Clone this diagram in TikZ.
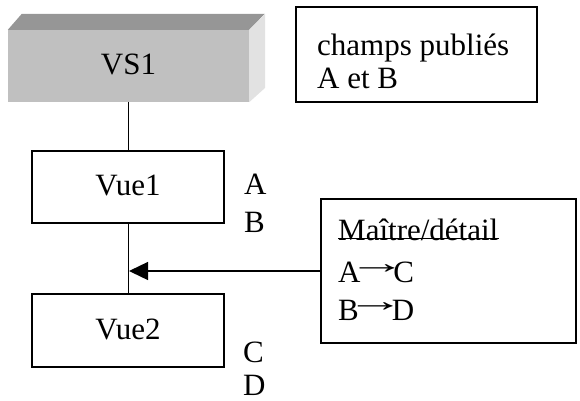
\documentclass[tikz,border=0pt]{standalone}
\usepackage{fontspec}
\setmainfont{Liberation Serif}
\usetikzlibrary{arrows.meta}
\definecolor{frontgray}{HTML}{C0C0C0}
\definecolor{topgray}{HTML}{969696}
\definecolor{sidegray}{HTML}{E2E2E2}
\newcommand{\raisedarrow}{\kern-13pt\raisebox{9pt}{\scalebox{1.9}[1]{→}}\kern-13pt}
\begin{document}
\begin{tikzpicture}[x=1pt,y=-1pt,
  every node/.style={font=\fontsize{31}{35}\selectfont},
  boxnode/.style={draw,line width=1.3pt,rectangle,inner sep=0pt,text height=17pt,text depth=0pt},
  txt/.style={inner sep=0pt,anchor=base west},
  conn/.style={line width=1pt}]
\useasboundingbox (0,0) rectangle (580,400);
% VS1 3D block
\node[rectangle,fill=frontgray,inner sep=0pt,minimum width=241pt,minimum height=72pt,text height=17pt,text depth=0pt] (vs1) at (128.5,66) {VS1};
\fill[topgray] (vs1.north west) -- ++(14,-16) -- ++(243,0) -- (vs1.north east) -- cycle;
\fill[sidegray] (vs1.north east) -- ++(16,-16) -- ++(0,74) -- (vs1.south east) -- cycle;
% published fields box
\node[draw,line width=1.3pt,rectangle,inner sep=0pt,minimum width=241pt,minimum height=95pt] (pub) at (416.5,54.5) {};
\node[txt] (pub1) at (317,55) {champs publiés};
\node[txt] (pub2) at (317,88) {A et B};
% views
\node[boxnode,minimum width=192pt,minimum height=72pt] (vue1) at (128,187) {Vue1};
\node[boxnode,minimum width=192pt,minimum height=73pt] (vue2) at (128,330.5) {Vue2};
\node[txt] (la) at (244,194) {A};
\node[txt] (lb) at (244,232) {B};
\node[txt] (lc) at (243,362) {C};
\node[txt] (ld) at (243,395) {D};
% master/detail box
\node[draw,line width=1.3pt,rectangle,inner sep=0pt,minimum width=255pt,minimum height=144pt] (md) at (448.5,271) {};
\node[txt] (md1) at (338,240) {Maître/détail};
\draw[line width=1pt] ([yshift=2pt]md1.base west) -- ([yshift=2pt]md1.base east);
\node[txt] (md2) at (338,282) {A\raisedarrow C};
\node[txt] (md3) at (338,320) {B\raisedarrow D};
% connectors
\draw[conn] (vue1.north |- vs1.south) -- (vue1.north);
\draw[conn] (vue1.south) -- (vue2.north);
\coordinate (j) at (129,271);
\draw[line width=1.3pt,-{Triangle[length=19pt,width=18pt]}] (md.west) -- (j);
\end{tikzpicture}
\end{document}
